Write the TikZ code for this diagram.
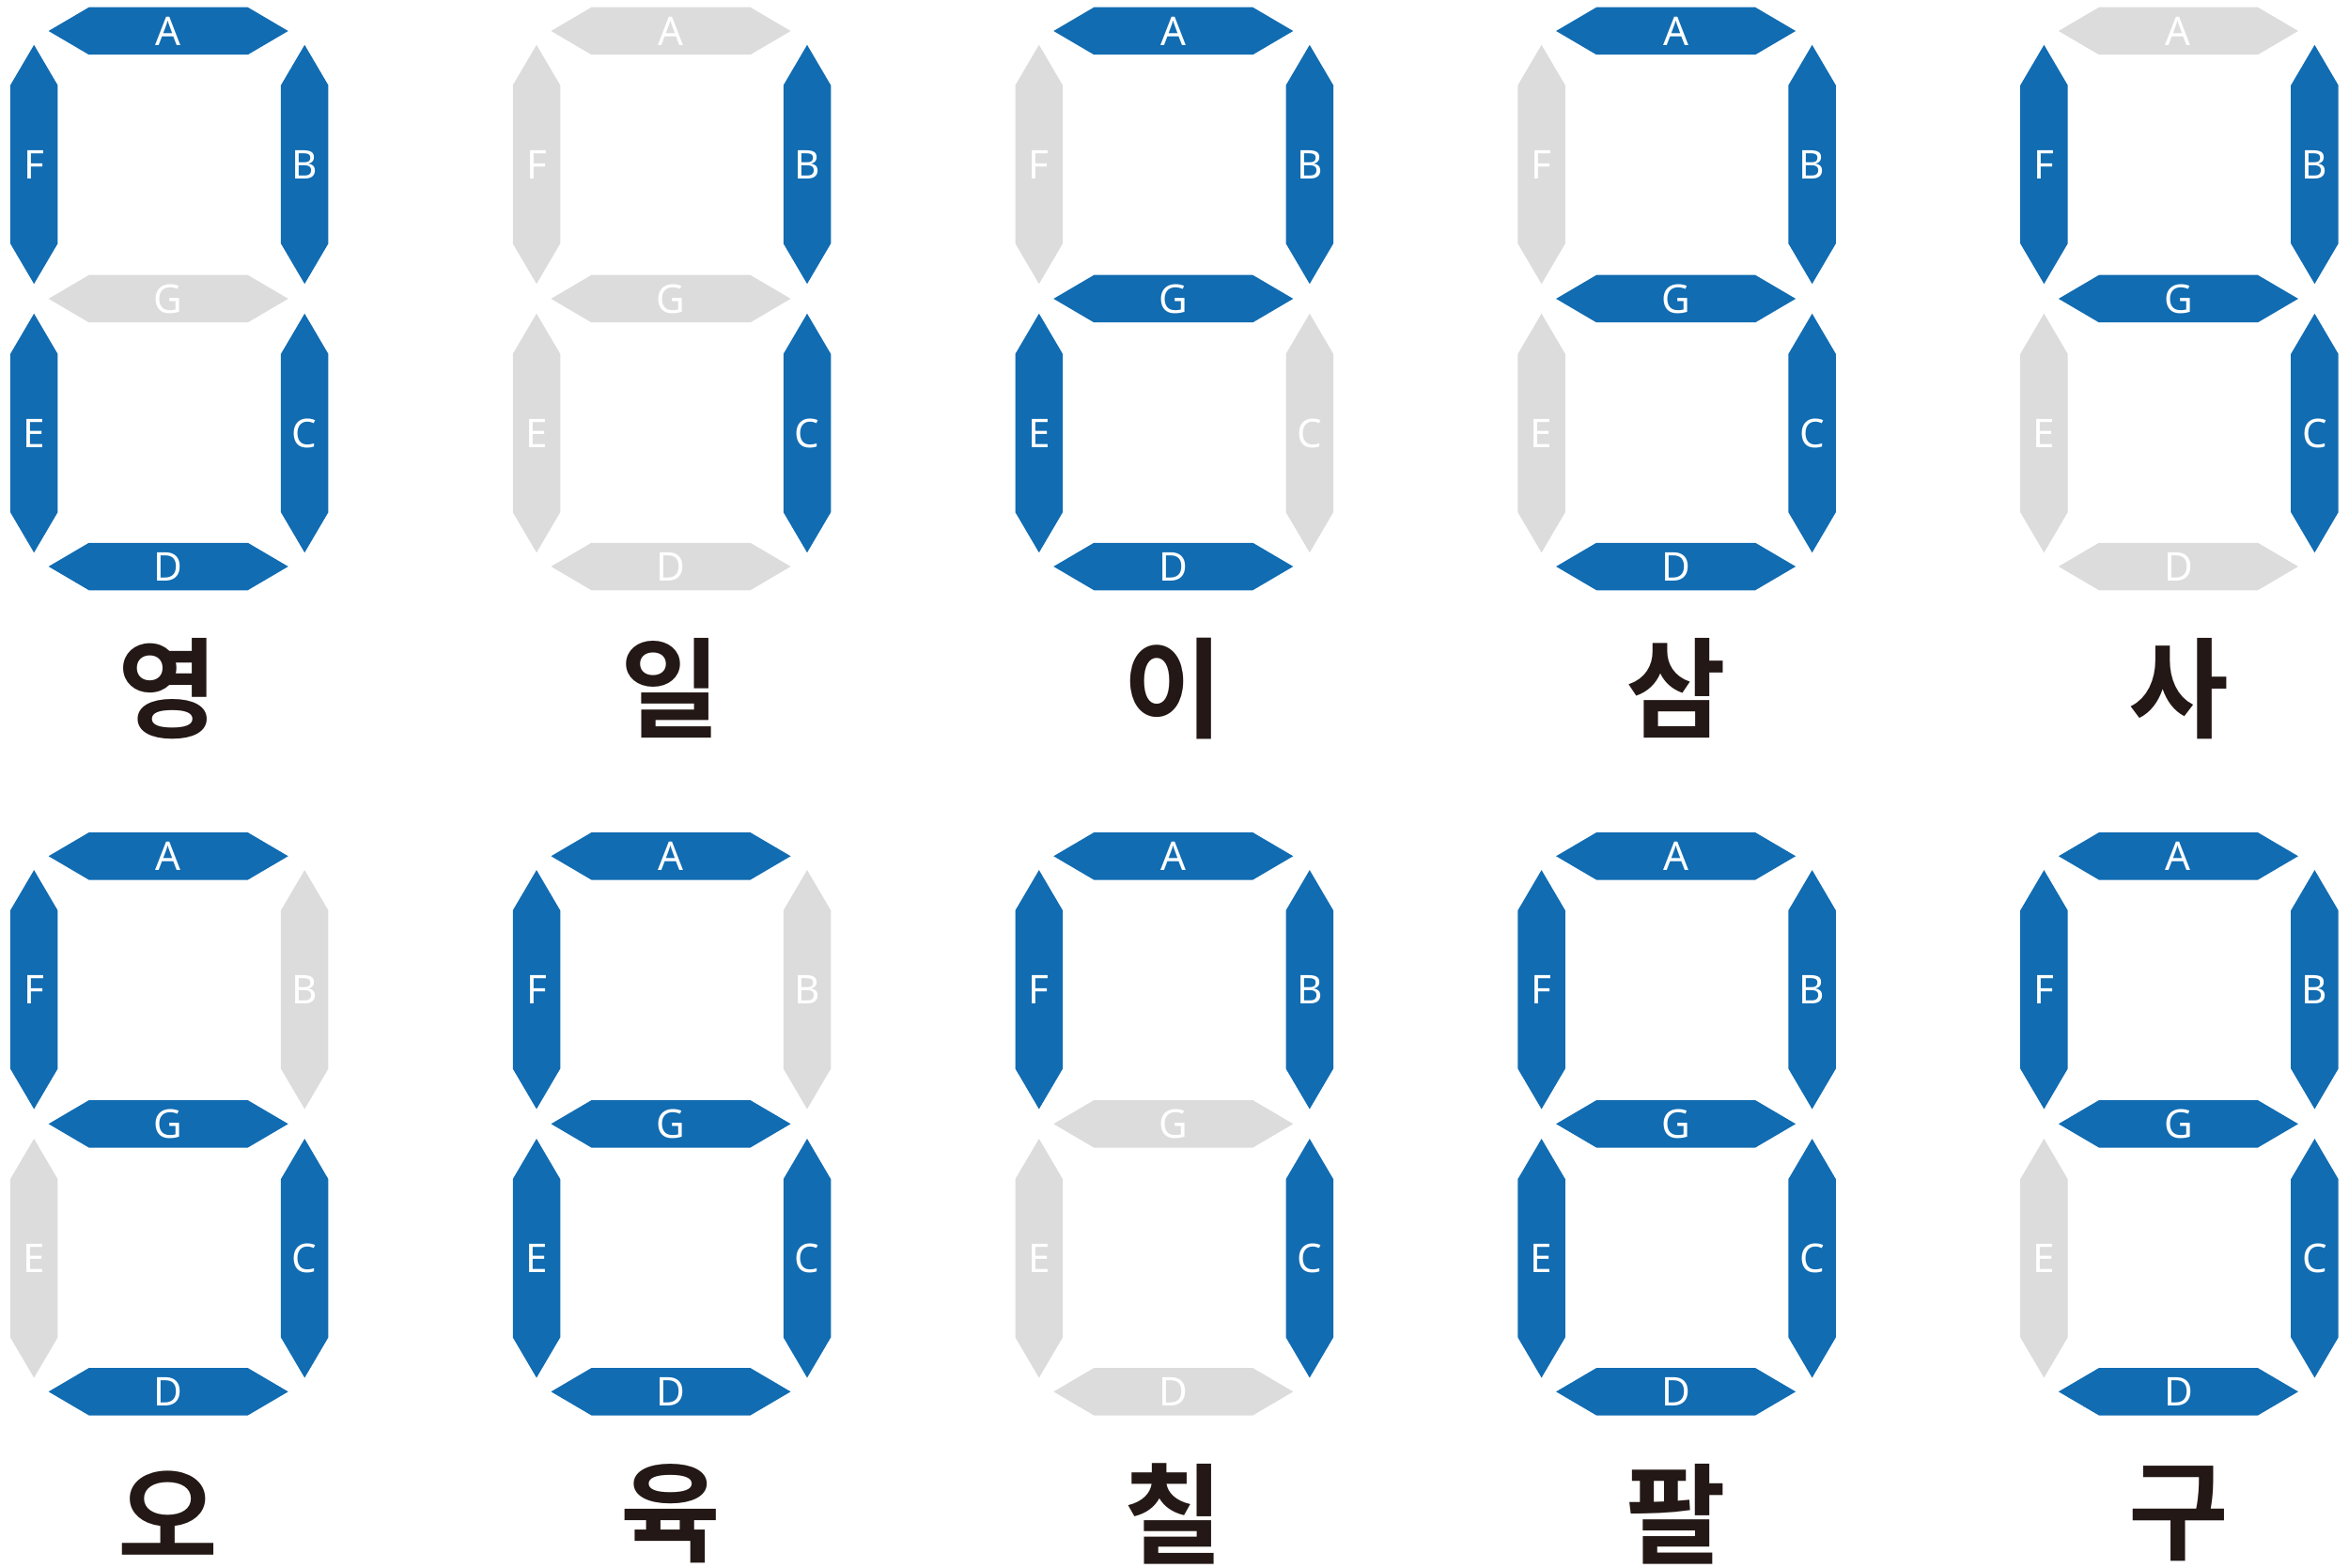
\documentclass[tikz,border=0pt]{standalone}
\usepackage{fontspec}
\usepackage{tikz}
\newfontfamily\segfont{Noto Sans}
\newfontfamily\kofont{Noto Sans CJK KR}[BoldFont={* Bold}]
\definecolor{segblue}{HTML}{116CB2}
\definecolor{seggray}{HTML}{DCDCDC}
\definecolor{inkblack}{HTML}{231815}

\begin{document}
\begin{tikzpicture}[
    lit/.style={fill=segblue},
    unlit/.style={fill=seggray},
    seglabel/.style={text=white, font=\segfont\fontsize{12}{12}\selectfont, inner sep=0pt},
    word/.style={text=inkblack, font=\kofont\bfseries\fontsize{33}{33}\selectfont, inner sep=0pt},
    pics/hseg/.style={code={
      \path[pic actions] (-1.275,0) -- (-0.845,0.2525) -- (0.845,0.2525) -- (1.275,0)
        -- (0.845,-0.2525) -- (-0.845,-0.2525) -- cycle;
      \node[seglabel] (-t) at (0,0) {#1};}},
    pics/vseg/.style={code={
      \path[pic actions] (0,-1.272) -- (0.2525,-0.842) -- (0.2525,0.842) -- (0,1.272)
        -- (-0.2525,0.842) -- (-0.2525,-0.842) -- cycle;
      \node[seglabel] (-t) at (0,0) {#1};}}]
  \useasboundingbox (0,0) rectangle (25,-16.69);
  % one digit per entry: number/column/row/word/A/B/C/D/E/F/G
  \foreach \n/\col/\row/\w/\a/\b/\c/\d/\e/\f/\g in {
      0/0/0/영/lit/lit/lit/lit/lit/lit/unlit,
      1/1/0/일/unlit/lit/lit/unlit/unlit/unlit/unlit,
      2/2/0/이/lit/lit/unlit/lit/lit/unlit/lit,
      3/3/0/삼/lit/lit/lit/lit/unlit/unlit/lit,
      4/4/0/사/unlit/lit/lit/unlit/unlit/lit/lit,
      5/0/1/오/lit/unlit/lit/lit/unlit/lit/lit,
      6/1/1/육/lit/unlit/lit/lit/lit/lit/lit,
      7/2/1/칠/lit/lit/lit/unlit/unlit/lit/unlit,
      8/3/1/팔/lit/lit/lit/lit/lit/lit/lit,
      9/4/1/구/lit/lit/lit/lit/unlit/lit/lit}{
    \begin{scope}[shift={(0.362+5.348*\col, -0.33-8.783*\row)}]
      \pic[\a] (d\n-A) at (1.43,0)     {hseg=A};
      \pic[\g] (d\n-G) at (1.43,-2.85) {hseg=G};
      \pic[\d] (d\n-D) at (1.43,-5.70) {hseg=D};
      \pic[\f] (d\n-F) at (0,-1.42)    {vseg=F};
      \pic[\b] (d\n-B) at (2.88,-1.42) {vseg=B};
      \pic[\e] (d\n-E) at (0,-4.28)    {vseg=E};
      \pic[\c] (d\n-C) at (2.88,-4.28) {vseg=C};
      \node[word] (w\n) at (1.43,-7.0) {\w};
    \end{scope}
  }
\end{tikzpicture}
\end{document}
